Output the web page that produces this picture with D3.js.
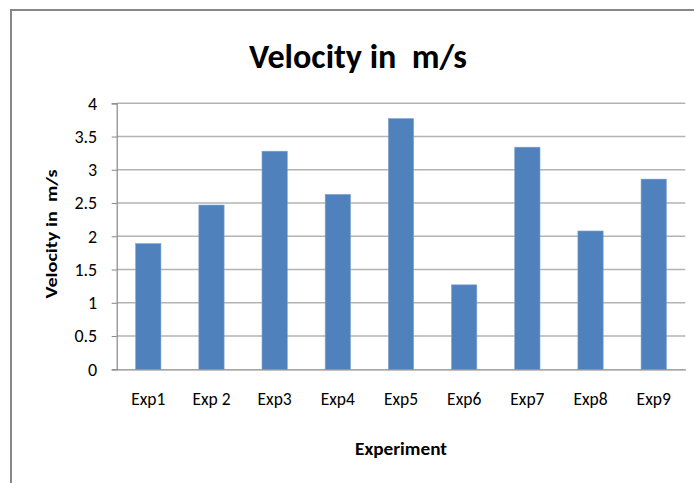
<!DOCTYPE html>
<html>
<head>
<meta charset="utf-8">
<script src="https://cdn.jsdelivr.net/npm/d3@7"></script>
<style>
  html, body { margin: 0; padding: 0; background: #fff; }
  svg { display: block; }
  text { font-family: Carlito, "Open Sans", "Noto Sans", sans-serif; fill: #000; white-space: pre; }
</style>
</head>
<body>
<script>
// Experiment categories and measured velocities (m/s)
const categories = ["Exp1", "Exp 2", "Exp3", "Exp4", "Exp5", "Exp6", "Exp7", "Exp8", "Exp9"];
const velocities = [1.89, 2.47, 3.28, 2.63, 3.77, 1.27, 3.34, 2.08, 2.86];
const yTicks = [0, 0.5, 1, 1.5, 2, 2.5, 3, 3.5, 4];
const chartTitle = "Velocity in  m/s";
const xTitle = "Experiment";
const yTitle = "Velocity in  m/s";

const W = 694, H = 483;
const plot = { left: 116.7, right: 685.3, top: 103.3, bottom: 369.3 };
const labelFont = "Carlito, 'Open Sans', sans-serif";

const svg = d3.select("body").append("svg").attr("width", W).attr("height", H);

// outer chart frame
svg.append("rect")
  .attr("x", 11).attr("y", 10)
  .attr("width", W + 20).attr("height", H + 20)
  .attr("fill", "#fff").attr("stroke", "#878787").attr("stroke-width", 2);

const x = d3.scaleBand().domain(categories).range([plot.left, plot.right])
  .paddingInner(0.6).paddingOuter(0.3);
const y = d3.scaleLinear().domain([0, 4]).range([plot.bottom, plot.top]);

// horizontal gridlines
svg.append("g").selectAll("line").data(yTicks.filter(d => d > 0)).join("line")
  .attr("x1", plot.left).attr("x2", plot.right)
  .attr("y1", d => y(d)).attr("y2", d => y(d))
  .attr("stroke", "#b3b3b3").attr("stroke-width", 1.5);

// y axis
const yAxis = svg.append("g").attr("transform", `translate(${plot.left},0)`)
  .call(d3.axisLeft(y).tickValues(yTicks).tickSize(5).tickPadding(14.5).tickFormat(d3.format("")));
yAxis.select(".domain").attr("stroke", "#878787").attr("stroke-width", 1.2);
yAxis.selectAll(".tick line").attr("stroke", "#878787");
yAxis.selectAll("text").attr("font-size", 18).attr("fill", "#000")
  .style("font-family", labelFont);

// bars
svg.append("g").selectAll("rect").data(categories).join("rect")
  .attr("x", d => x(d))
  .attr("width", x.bandwidth())
  .attr("y", (d, i) => y(velocities[i]))
  .attr("height", (d, i) => plot.bottom - y(velocities[i]))
  .attr("fill", "#4f81bd")
  .attr("stroke", "#7ea1cf").attr("stroke-width", 0.6);

// x axis
const xAxis = svg.append("g").attr("transform", `translate(0,${plot.bottom})`)
  .call(d3.axisBottom(x).tickSize(0).tickPadding(23));
xAxis.select(".domain").attr("stroke", "#878787").attr("stroke-width", 1.2);
xAxis.selectAll("text").attr("font-size", 17.5).attr("fill", "#000")
  .style("font-family", labelFont);

// chart title
svg.append("text")
  .attr("x", 358).attr("y", 68)
  .attr("text-anchor", "middle")
  .attr("font-size", 35).attr("font-weight", "bold")
  .attr("textLength", 218).attr("lengthAdjust", "spacingAndGlyphs")
  .text(chartTitle);

// x axis title
svg.append("text")
  .attr("x", 401).attr("y", 455)
  .attr("text-anchor", "middle")
  .attr("font-size", 17).attr("font-weight", "bold")
  .attr("textLength", 92).attr("lengthAdjust", "spacingAndGlyphs")
  .text(xTitle);

// y axis title
svg.append("text")
  .attr("transform", "translate(57,234) rotate(-90)")
  .attr("text-anchor", "middle")
  .attr("font-size", 16).attr("font-weight", "bold")
  .attr("textLength", 129).attr("lengthAdjust", "spacingAndGlyphs")
  .text(yTitle);
</script>
</body>
</html>
